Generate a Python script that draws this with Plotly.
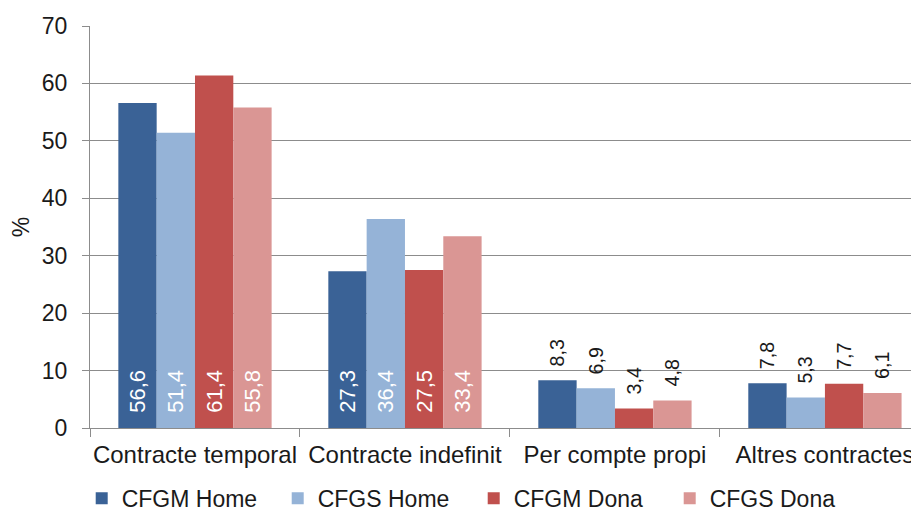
import plotly.graph_objects as go

categories = ["Contracte temporal", "Contracte indefinit", "Per compte propi", "Altres contractes"]
series_names = ["CFGM Home", "CFGS Home", "CFGM Dona", "CFGS Dona"]
cfgm_home = [56.6, 27.3, 8.3, 7.8]
cfgs_home = [51.4, 36.4, 6.9, 5.3]
cfgm_dona = [61.4, 27.5, 3.4, 7.7]
cfgs_dona = [55.8, 33.4, 4.8, 6.1]
y_ticks = [0, 10, 20, 30, 40, 50, 60, 70]

colors = ["#3A6296", "#95B3D7", "#C0504D", "#DA9694"]
all_values = [cfgm_home, cfgs_home, cfgm_dona, cfgs_dona]

FONT = "Liberation Sans, Arial, sans-serif"
NB = "\u00a0"

fig = go.Figure()
for name, vals, col in zip(series_names, all_values, colors):
    texts, positions, tcolors = [], [], []
    for v in vals:
        lab = f"{v:.1f}".replace(".", ",")
        if v > 20:
            texts.append(NB * 2 + lab)
            positions.append("inside")
            tcolors.append("white")
        else:
            texts.append(NB * 2 + lab)
            positions.append("outside")
            tcolors.append("#1a1a1a")
    fig.add_trace(go.Bar(
        name=name, x=categories, y=vals,
        marker=dict(color=col, line=dict(width=0)),
        text=texts, textposition=positions, textangle=-90,
        insidetextanchor="start",
        textfont=dict(family=FONT, size=22, color=tcolors),
        cliponaxis=False,
        hoverinfo="skip",
    ))

# page body has an 8px default margin, so the figure is sized to fit 919x515
fig.update_layout(
    width=911, height=507,
    margin=dict(l=82, r=0, t=18, b=87, autoexpand=False),
    paper_bgcolor="white", plot_bgcolor="white",
    barmode="group", bargap=0.27, bargroupgap=0,
    font=dict(family=FONT, size=22, color="#1a1a1a"),
    showlegend=True,
    legend=dict(
        orientation="h", x=-0.01, xanchor="left", y=-0.175, yanchor="middle",
        xref="paper", yref="paper",
        font=dict(family=FONT, size=23, color="#1a1a1a"),
        itemwidth=30, entrywidth=151, entrywidthmode="pixels",
        traceorder="normal", bgcolor="rgba(0,0,0,0)",
    ),
)
fig.update_xaxes(
    range=[-0.5, 3.448],
    showline=True, linecolor="#8c8c8c", linewidth=1,
    ticks="outside", tickson="boundaries", ticklen=8, tickcolor="#8c8c8c",
    ticklabelstandoff=5, tickangle=0,
    showgrid=False,
    tickfont=dict(family=FONT, size=24, color="#1a1a1a"),
)
fig.update_yaxes(
    range=[0, 70], tickvals=y_ticks,
    showline=True, linecolor="#8c8c8c", linewidth=1,
    ticks="outside", ticklen=7, tickcolor="#8c8c8c",
    ticklabelstandoff=10,
    showgrid=True, gridcolor="#8c8c8c", gridwidth=1,
    zeroline=False,
    tickfont=dict(family=FONT, size=23, color="#1a1a1a"),
    title=dict(text="%", font=dict(family=FONT, size=23, color="#1a1a1a"), standoff=12),
)

fig.write_html("out.html")
